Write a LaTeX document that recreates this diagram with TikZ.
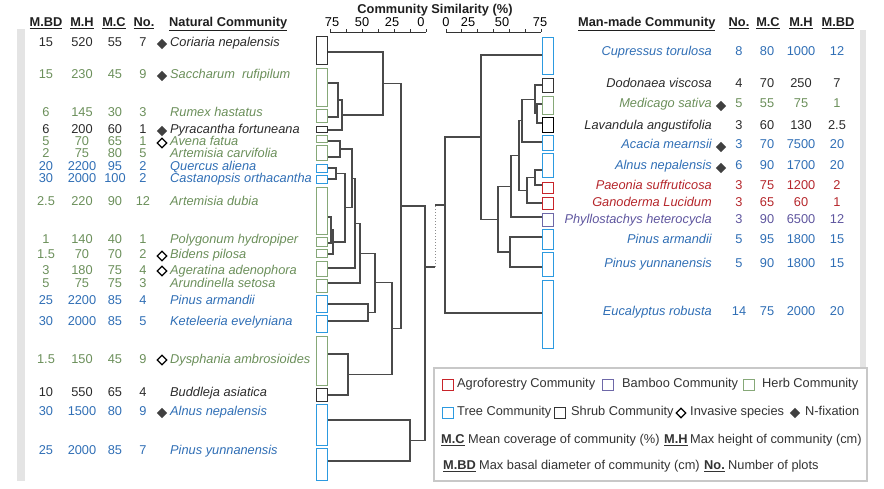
\documentclass[tikz,border=0pt]{standalone}
\usepackage{fontspec}
\setmainfont{Liberation Sans}
\usetikzlibrary{shapes.geometric,calc}
\definecolor{herbT}{HTML}{6B8F5A}
\definecolor{treeT}{HTML}{2F6EB5}
\definecolor{shrubT}{HTML}{2A2A2A}
\definecolor{agroT}{HTML}{B5262B}
\definecolor{bambT}{HTML}{5E559E}
\definecolor{herbB}{HTML}{86A878}
\definecolor{treeB}{HTML}{2C9AE0}
\definecolor{shrubB}{HTML}{333333}
\definecolor{agroB}{HTML}{C8242A}
\definecolor{bambB}{HTML}{6E68A8}
\definecolor{dend}{HTML}{4A4A4A}
\definecolor{barG}{HTML}{E4E4E4}
\definecolor{legG}{HTML}{C8C8C8}
\tikzset{
 tx/.style={font=\fontsize{12.8}{14}\selectfont, inner sep=0pt, anchor=mid},
 nm/.style={font=\fontsize{12.8}{14}\selectfont\itshape, inner sep=0pt},
 hd/.style={font=\fontsize{12.8}{14}\selectfont\bfseries, inner sep=0pt, anchor=mid, text=black!88},
 cbox/.style={draw, line width=1.2pt, minimum width=11pt, inner sep=0pt, fill=white},
 dline/.style={draw=dend, line width=1.15pt},
 dotline/.style={draw=black!45, line width=1pt, dotted},
 fdia/.style={shape=diamond, fill=black!75, inner sep=0pt, minimum width=10.5pt, minimum height=10.5pt},
 odia/.style={shape=diamond, draw=black, line width=1.3pt, inner sep=0pt, minimum width=10pt, minimum height=10pt},
 lsq/.style={draw, line width=1.1pt, minimum size=11pt, inner sep=0pt},
 lg/.style={font=\fontsize{12.8}{14}\selectfont, inner sep=0pt, anchor=mid west, text=black!80},
 lgb/.style={font=\fontsize{12.8}{14}\selectfont\bfseries, inner sep=0pt, anchor=mid west, text=black!80},
}
\newcommand\lrow[8]{%
 \node[tx,text=#3] (#1a) at (46,#2) {#4};
 \node[tx,text=#3] (#1b) at (82,#2) {#5};
 \node[tx,text=#3] (#1c) at (115,#2) {#6};
 \node[tx,text=#3] (#1d) at (143,#2) {#7};
 \node[nm,text=#3,anchor=mid west] (#1e) at (170,#2) {#8};}
\newcommand\rrow[8]{%
 \node[nm,text=#3,anchor=mid east] (#1e) at (712,#2) {#4};
 \node[tx,text=#3] (#1a) at (739,#2) {#5};
 \node[tx,text=#3] (#1b) at (767,#2) {#6};
 \node[tx,text=#3] (#1c) at (801,#2) {#7};
 \node[tx,text=#3] (#1d) at (837,#2) {#8};}
\newcommand\bx[5]{% name, xc, y1, y2, color
 \node[cbox, draw=#5, minimum height={#4-#3-1}] (#1) at (#2,{(#3+#4)/2}) {};}
\newcommand\dmerge[4]{% name, child1, child2, x
 \path let \p1=(#2), \p2=(#3) in coordinate (#1) at (#4pt,{0.5*(\y1+\y2)});
 \draw[dline] (#2) -| (#1) |- (#3);}
\begin{document}
\begin{tikzpicture}[x=1pt,y=-1pt]
\useasboundingbox (0,0) rectangle (884,489);
\fill[barG] (17,29) rectangle (25,481);
\fill[barG] (860,30) rectangle (866,372);
% title and axes
\node[hd] (title) at (435,11) {Community Similarity (\%)};
\coordinate (axL0) at (330,32); \coordinate (axL1) at (426,32);
\draw[black!80, line width=0.9pt] (axL0) -- (axL1);
\foreach \i in {0,...,6} {\draw[black!80, line width=0.8pt] (330+16*\i,32) -- ++(0,-3);}
\node[tx] (l75) at (332,24) {75};
\node[tx] (l50) at (362,24) {50};
\node[tx] (l25) at (392,24) {25};
\node[tx] (l0) at (421,24) {0};
\coordinate (axR0) at (446,32); \coordinate (axR1) at (541,32);
\draw[black!80, line width=0.9pt] (axR0) -- (axR1);
\foreach \i in {0,...,6} {\draw[black!80, line width=0.8pt] (446+15.83*\i,32) -- ++(0,-3);}
\node[tx] (r0) at (446,24) {0};
\node[tx] (r25) at (468,24) {25};
\node[tx] (r50) at (502,24) {50};
\node[tx] (r75) at (540,24) {75};
% headers
\node[hd] (hL1) at (46,24) {\underline{M.BD}};
\node[hd] (hL2) at (82,24) {\underline{M.H}};
\node[hd] (hL3) at (114,24) {\underline{M.C}};
\node[hd] (hL4) at (144,24) {\underline{No.}};
\node[hd,anchor=mid west] (hL5) at (169,24) {\underline{Natural Community}};
\node[hd,anchor=mid west] (hR5) at (578,24) {\underline{Man-made Community}};
\node[hd] (hR4) at (739,24) {\underline{No.}};
\node[hd] (hR3) at (768,24) {\underline{M.C}};
\node[hd] (hR2) at (801,24) {\underline{M.H}};
\node[hd] (hR1) at (838,24) {\underline{M.BD}};
% left table
\lrow{L1}{44}{shrubT}{15}{520}{55}{7}{Coriaria nepalensis}
\lrow{L2}{76}{herbT}{15}{230}{45}{9}{Saccharum\ \ rufipilum}
\lrow{L3}{114}{herbT}{6}{145}{30}{3}{Rumex hastatus}
\lrow{L4}{131}{shrubT}{6}{200}{60}{1}{Pyracantha fortuneana}
\lrow{L5}{143}{herbT}{5}{70}{65}{1}{Avena fatua}
\lrow{L6}{155}{herbT}{2}{75}{80}{5}{Artemisia carvifolia}
\lrow{L7}{168}{treeT}{20}{2200}{95}{2}{Quercus aliena}
\lrow{L8}{180}{treeT}{30}{2000}{100}{2}{Castanopsis orthacantha}
\lrow{L9}{203}{herbT}{2.5}{220}{90}{12}{Artemisia dubia}
\lrow{L10}{241}{herbT}{1}{140}{40}{1}{Polygonum hydropiper}
\lrow{L11}{256}{herbT}{1.5}{70}{70}{2}{Bidens pilosa}
\lrow{L12}{272}{herbT}{3}{180}{75}{4}{Ageratina adenophora}
\lrow{L13}{285}{herbT}{5}{75}{75}{3}{Arundinella setosa}
\lrow{L14}{302}{treeT}{25}{2200}{85}{4}{Pinus armandii}
\lrow{L15}{323}{treeT}{30}{2000}{85}{5}{Keteleeria evelyniana}
\lrow{L16}{361}{herbT}{1.5}{150}{45}{9}{Dysphania ambrosioides}
\lrow{L17}{394}{shrubT}{10}{550}{65}{4}{Buddleja asiatica}
\lrow{L18}{413}{treeT}{30}{1500}{80}{9}{Alnus nepalensis}
\lrow{L19}{452}{treeT}{25}{2000}{85}{7}{Pinus yunnanensis}
\node[fdia] (dL1) at (162,44) {};
\node[fdia] (dL2) at (162,76) {};
\node[fdia] (dL4) at (162,131) {};
\node[odia] (dL5) at (162,143) {};
\node[odia] (dL11) at (162,256) {};
\node[odia] (dL12) at (162,271) {};
\node[odia] (dL16) at (162,360) {};
\node[fdia] (dL18) at (162,413) {};
% right table
\rrow{R1}{53}{treeT}{Cupressus torulosa}{8}{80}{1000}{12}
\rrow{R2}{85}{shrubT}{Dodonaea viscosa}{4}{70}{250}{7}
\rrow{R3}{105}{herbT}{Medicago sativa}{5}{55}{75}{1}
\rrow{R4}{127}{shrubT}{Lavandula angustifolia}{3}{60}{130}{2.5}
\rrow{R5}{146}{treeT}{Acacia mearnsii}{3}{70}{7500}{20}
\rrow{R6}{167}{treeT}{Alnus nepalensis}{6}{90}{1700}{20}
\rrow{R7}{187}{agroT}{Paeonia suffruticosa}{3}{75}{1200}{2}
\rrow{R8}{204}{agroT}{Ganoderma Lucidum}{3}{65}{60}{1}
\rrow{R9}{221}{bambT}{Phyllostachys heterocycla}{3}{90}{6500}{12}
\rrow{R10}{241}{treeT}{Pinus armandii}{5}{95}{1800}{15}
\rrow{R11}{265}{treeT}{Pinus yunnanensis}{5}{90}{1800}{15}
\rrow{R12}{313}{treeT}{Eucalyptus robusta}{14}{75}{2000}{20}
\node[fdia] (dR3) at (721,106) {};
\node[fdia] (dR5) at (721,147) {};
\node[fdia] (dR6) at (721,168) {};
% left boxes
\bx{LB1}{322}{36}{65}{shrubB}
\bx{LB2}{322}{68}{107}{herbB}
\bx{LB3}{322}{109}{123}{herbB}
\bx{LB4}{322}{126}{133}{shrubB}
\bx{LB5}{322}{135}{143}{herbB}
\bx{LB6}{322}{145}{161}{herbB}
\bx{LB7}{322}{164}{173}{treeB}
\bx{LB8}{322}{175}{184}{treeB}
\bx{LB9}{322}{187}{235}{herbB}
\bx{LB10}{322}{237}{247}{herbB}
\bx{LB11}{322}{249}{258}{herbB}
\bx{LB12}{322}{261}{277}{herbB}
\bx{LB13}{322}{279}{293}{herbB}
\bx{LB14}{322}{295}{313}{treeB}
\bx{LB15}{322}{315}{333}{treeB}
\bx{LB16}{322}{336}{386}{herbB}
\bx{LB17}{322}{388}{402}{shrubB}
\bx{LB18}{322}{404}{446}{treeB}
\bx{LB19}{322}{448}{481}{treeB}
% right boxes
\bx{RB1}{548}{37}{75}{treeB}
\bx{RB2}{548}{78}{93}{shrubB}
\bx{RB3}{548}{96}{115}{herbB}
\bx{RB4}{548}{117}{133}{black}
\bx{RB5}{548}{135}{151}{treeB}
\bx{RB6}{548}{153}{178}{treeB}
\bx{RB7}{548}{182}{194}{agroB}
\bx{RB8}{548}{197}{210}{agroB}
\bx{RB9}{548}{213}{227}{bambB}
\bx{RB10}{548}{229}{250}{treeB}
\bx{RB11}{548}{252}{277}{treeB}
\bx{RB12}{548}{280}{349}{treeB}
% left leaves
\coordinate (l1) at (328,52);
\coordinate (l2) at (328,83);
\coordinate (l3) at (328,117);
\coordinate (l4) at (328,130);
\coordinate (l5) at (328,141);
\coordinate (l6) at (328,157);
\coordinate (l7) at (328,168);
\coordinate (l8) at (328,179);
\coordinate (l9) at (328,217);
\coordinate (l10) at (328,243);
\coordinate (l11) at (328,254);
\coordinate (l12) at (328,268);
\coordinate (l13) at (328,283);
\coordinate (l14) at (328,304);
\coordinate (l15) at (328,321);
\coordinate (l16) at (328,354);
\coordinate (l17) at (328,395);
\coordinate (l18) at (328,420);
\coordinate (l19) at (328,461);
\dmerge{n23}{l2}{l3}{338}
\dmerge{n234}{n23}{l4}{342}
\dmerge{n1234}{l1}{n234}{383}
\dmerge{n56}{l5}{l6}{340}
\dmerge{n78}{l7}{l8}{336}
\dmerge{n910}{l9}{l10}{331}
\dmerge{n911}{n910}{l11}{333}
\dmerge{nA}{n78}{n911}{345}
\dmerge{nB}{n56}{nA}{352}
\dmerge{nC}{nB}{l12}{355}
\dmerge{nD}{nC}{l13}{360}
\dmerge{n1415}{l14}{l15}{368}
\dmerge{nE}{nD}{n1415}{375}
\dmerge{n1617}{l16}{l17}{348}
\dmerge{nF}{nE}{n1617}{392}
\dmerge{nG}{n1234}{nF}{401}
\dmerge{n1819}{l18}{l19}{410}
\dmerge{nRoot}{nG}{n1819}{425}
% right leaves
\coordinate (r1) at (542,55);
\coordinate (r2) at (542,85);
\coordinate (r3) at (542,104);
\coordinate (r4) at (542,123);
\coordinate (r5) at (542,142);
\coordinate (r6) at (542,170);
\coordinate (r7) at (542,185);
\coordinate (r8) at (542,203);
\coordinate (r9) at (542,217);
\coordinate (r10) at (542,237);
\coordinate (r11) at (542,267);
\coordinate (r12) at (542,313);
\dmerge{m34}{r3}{r4}{537}
\dmerge{m234}{r2}{m34}{535}
\dmerge{m2345}{m234}{r5}{522}
\dmerge{m67}{r6}{r7}{535}
\dmerge{m678}{m67}{r8}{527}
\dmerge{m28}{m2345}{m678}{519}
\dmerge{m29}{m28}{r9}{511}
\dmerge{m1011}{r10}{r11}{510}
\dmerge{m211}{m29}{m1011}{498}
\dmerge{m111}{r1}{m211}{481}
\dmerge{mRoot}{m111}{r12}{445}
% link between the two trees
\coordinate (cL) at (425,267);
\coordinate (cLa) at (435,267);
\coordinate (cRa) at (435,205);
\coordinate (cR) at (445,205);
\draw[dline] (cL) -- (cLa);
\draw[dotline] (cLa) -- (cRa);
\draw[dline] (cRa) -- (cR);
% legend
\draw[legG, line width=2.5pt, fill=white] (434,368) rectangle (867,481);
\node[lsq,draw=agroB] (lg1) at (448,385) {};
\node[lg] (lt1) at (457,385) {Agroforestry Community};
\node[lsq,draw=bambB] (lg2) at (608,385) {};
\node[lg] (lt2) at (622,385) {Bamboo Community};
\node[lsq,draw=herbB] (lg3) at (749,385) {};
\node[lg] (lt3) at (762,385) {Herb Community};
\node[lsq,draw=treeB] (lg4) at (448,413) {};
\node[lg] (lt4) at (457,413) {Tree Community};
\node[lsq,draw=shrubB] (lg5) at (560,413) {};
\node[lg] (lt5) at (571,413) {Shrub Community};
\node[odia] (lg6) at (681,413) {};
\node[lg] (lt6) at (690,413) {Invasive species};
\node[fdia] (lg7) at (795,413) {};
\node[lg] (lt7) at (805,413) {N-fixation};
\node[lgb] (lt8) at (441,441) {\underline{M.C}};
\node[lg] (lt9) at (468,441) {Mean coverage of community (\%)};
\node[lgb] (lt10) at (664,441) {\underline{M.H}};
\node[lg] (lt11) at (690,441) {Max height of community (cm)};
\node[lgb] (lt12) at (443,467) {\underline{M.BD}};
\node[lg] (lt13) at (479,467) {Max basal diameter of community (cm)};
\node[lgb] (lt14) at (704,467) {\underline{No.}};
\node[lg] (lt15) at (728,467) {Number of plots};
\end{tikzpicture}
\end{document}
